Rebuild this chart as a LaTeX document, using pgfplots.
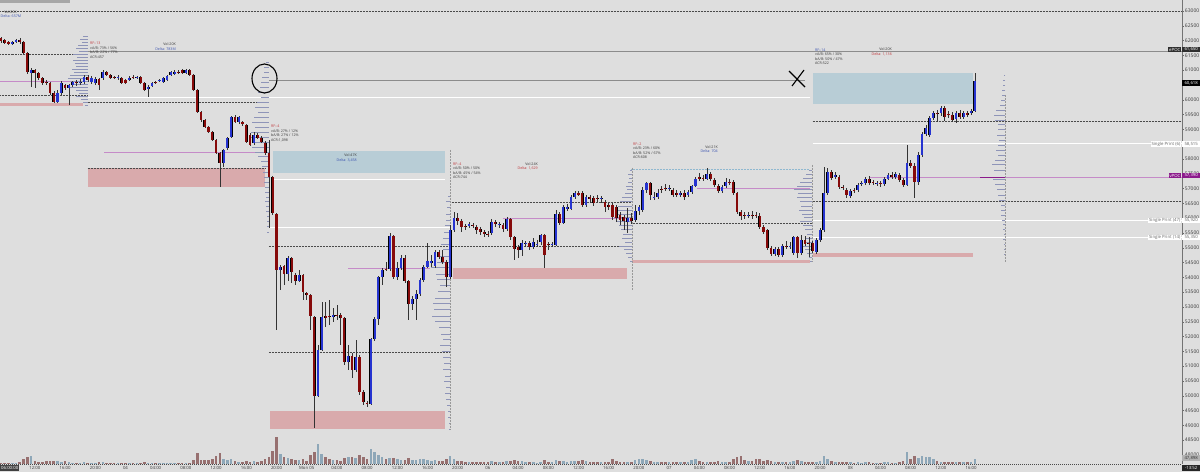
\documentclass[border=0pt]{standalone}
\usepackage{fontspec}
\setmainfont{Open Sans}
\usepackage{pgfplots}
\usepackage{pgfplotstable}
\pgfplotsset{compat=1.18}
\definecolor{bgc}{HTML}{DEDEDE}
\definecolor{upc}{HTML}{2634D0}
\definecolor{dnc}{HTML}{860A0A}
\definecolor{wickc}{HTML}{333333}
\definecolor{pinkz}{HTML}{D9AAAC}
\definecolor{bluez}{HTML}{B8CDD6}
\definecolor{magl}{HTML}{C58BC8}
\definecolor{magd}{HTML}{8B1A8B}
\definecolor{dotc}{HTML}{4A4A4A}
\definecolor{volup}{HTML}{8EA7B8}
\definecolor{voldn}{HTML}{977070}
\definecolor{profc}{HTML}{8E94B8}
\definecolor{txtc}{HTML}{3A3A3A}
\definecolor{redt}{HTML}{C0383C}
\definecolor{bluet}{HTML}{3A52B0}
\definecolor{lbd}{HTML}{8FB8D0}

\pgfplotstableread{
t o h l c v
-16.5 62088 62122 61919 61987 150
-16 62021 62055 61886 61919 150
-15.5 61953 61987 61852 61886 150
-15 61886 61987 61852 61953 150
-14.5 61953 62055 61919 62021 150
-14 62021 62088 61886 61953 200
-13.5 61953 61987 61548 61582 500
-13 61582 61615 60872 60940 700
-12.5 60906 61075 60433 61007 800
-12 61007 61041 60399 60906 300
-11.5 60906 60940 60670 60737 250
-11 60737 60771 60501 60568 250
-10.5 60602 60670 60501 60568 300
-10 60568 60602 60163 60230 300
-9.5 60230 60298 59893 59926 300
-9 59926 60332 59893 60230 300
-8.5 60230 60636 60163 60568 250
-8 60501 60534 60332 60399 300
-7.5 60399 60534 59825 60501 200
-7 60501 60636 60433 60602 150
-6.5 60602 60670 60467 60568 150
-6 60568 60703 60501 60602 150
-5.5 60602 60838 60534 60771 200
-5 60771 60838 60602 60670 150
-4.5 60602 60805 60534 60737 150
-4 60568 60771 60501 60703 150
-3.5 60703 60737 60332 60501 200
-3 60737 61007 60670 60940 200
-2.5 60940 60974 60805 60838 100
-2 60838 60872 60703 60737 100
-1.5 60771 60805 60703 60737 100
-1 60737 60838 60670 60771 100
-0.5 60737 60771 60534 60568 150
0 60670 60703 60534 60568 150
0.5 60670 60805 60636 60737 150
1 60771 60838 60703 60737 100
1.5 60737 60805 60703 60771 100
2 60771 60805 60534 60568 150
2.5 60568 60602 60298 60332 200
3 60366 60501 60095 60433 150
3.5 60467 60602 60433 60568 150
4 60602 60636 60534 60568 100
4.5 60636 60703 60602 60670 100
5 60602 60771 60568 60737 100
5.5 60670 60838 60636 60805 150
6 60838 60974 60805 60940 150
6.5 60872 61007 60838 60940 150
7 60940 61007 60872 60906 100
7.5 61007 61041 60872 60906 150
8 60906 61041 60872 61007 150
8.5 61007 61041 60805 60838 150
9 60838 60872 60298 60332 400
9.5 60332 60366 59555 59589 1100
10 59589 59622 59251 59318 400
10.5 59318 59352 59048 59082 400
11 59082 59116 58879 58913 400
11.5 58913 58947 58609 58643 500
12 58643 58677 58170 58204 800
12.5 58204 58237 57055 57866 1100
13 57866 58339 57731 58305 500
13.5 58373 58744 58305 58710 400
14 58744 59454 58710 59420 500
14.5 59420 59487 59217 59251 300
15 59251 59454 59183 59420 250
15.5 59251 59285 59116 59183 200
16 59150 59183 58542 58575 300
16.5 58812 58879 58440 58474 250
17 58542 58913 58474 58812 300
17.5 58812 58879 58677 58710 200
18 58710 58778 58542 58575 300
18.5 58542 58609 58136 58204 500
19 58204 58643 55670 57393 700
19.5 57393 57427 56109 56177 1300
20 56143 56177 52225 54251 2700
20.5 54251 54420 53576 54353 1000
21 54387 54420 53745 54116 700
21.5 54116 54724 53880 54657 600
22 54657 54690 53812 54184 500
22.5 54083 54150 53745 53880 400
23 53880 54251 53846 54083 400
23.5 54083 54116 53238 53508 500
24 53474 53508 53238 53407 300
24.5 53407 53441 52225 52697 900
25 52664 52697 48914 49995 1200
25.5 49995 51718 49961 51549 2000
26 51549 53170 51515 52664 1000
26.5 52697 53170 52326 52630 700
27 52697 53238 52394 52664 500
27.5 52664 52968 52495 52731 400
28 52731 53069 52562 52697 400
28.5 52731 52799 51718 52630 300
29 52630 52664 51042 51144 600
29.5 51144 51718 50873 51346 700
30 51346 51448 50603 50873 700
30.5 50873 51887 50806 51313 600
31 51313 51380 50029 50130 900
31.5 50130 50198 49691 49792 700
32 49759 49826 49624 49725 500
32.5 49725 51954 49691 51920 1500
33 51920 52664 51853 52596 1200
33.5 52596 54049 52394 54015 900
34 54015 54319 53745 54251 700
34.5 54285 54522 54218 54251 500
35 54285 55501 54218 55400 600
35.5 55400 55434 53947 54015 600
36 54015 54522 53914 54319 500
36.5 54319 54758 54251 54657 400
37 54657 54758 53812 53880 400
37.5 53880 53914 52562 53103 600
38 53103 53373 52900 53272 400
38.5 53272 53576 52562 53441 400
39 53441 53981 53373 53914 500
39.5 53914 54420 53846 54353 500
40 54353 55163 54319 54555 400
40.5 54488 54758 54353 54555 300
41 54387 54927 54319 54859 400
41.5 54859 54927 54623 54690 300
42 54690 54927 54454 54522 300
42.5 54522 54589 53677 54015 500
43 54015 55772 53947 55603 800
43.5 55603 56211 55535 56008 500
44 56008 56177 55772 55907 300
44.5 55907 55974 55535 55704 300
45 55738 55805 55603 55704 200
45.5 55738 55873 55670 55805 200
46 55772 55839 55670 55738 200
46.5 55704 55772 55467 55603 200
47 55636 55704 55434 55535 200
47.5 55535 55603 55366 55467 200
48 55467 55569 55366 55450 200
48.5 55501 55974 55434 55873 300
49 55873 55940 55704 55805 200
49.5 55788 55873 55670 55805 200
50 55772 55839 55535 55636 200
50.5 55636 56042 55569 55974 300
51 55974 56008 55265 55366 300
51.5 55366 55400 54589 54961 400
52 55028 55096 54657 54927 300
52.5 54927 55265 54724 55163 300
53 55129 55231 55028 55163 200
53.5 55163 55231 54927 55028 200
54 55028 55332 54961 55197 200
54.5 55096 55265 55028 55129 150
55 55197 55467 55096 55434 200
55.5 55434 55467 54319 54758 400
56 55129 55197 54927 55096 250
56.5 55096 55197 55028 55129 200
57 55096 56278 55062 56143 400
57.5 56143 56211 55772 55839 300
58 55839 56447 55805 56380 300
58.5 56312 56481 56244 56380 200
59 56312 56785 56278 56717 300
59.5 56717 56920 56650 56852 300
60 56852 56920 56751 56819 300
60.5 56852 56920 56380 56447 400
61 56447 56785 56380 56717 300
61.5 56717 56785 56515 56650 200
62 56684 56751 56413 56515 200
62.5 56684 56785 56549 56650 200
63 56650 56751 56515 56684 200
63.5 56549 56616 56211 56380 200
64 56447 56515 56278 56380 200
64.5 56447 56515 55940 56042 500
65 56380 56447 55873 56008 300
65.5 56109 56211 55772 55940 200
66 56042 56109 55603 55907 200
66.5 55873 56346 55501 56008 200
67 56008 56177 55805 55907 200
67.5 55940 56447 55873 56244 400
68 56244 56447 56109 56380 500
68.5 56278 57055 56211 56954 500
69 56954 57224 56852 57190 400
69.5 57190 57224 56616 56785 300
70 56684 56886 56616 56717 200
70.5 56717 56988 56650 56852 200
71 56988 57089 56852 56954 200
71.5 57021 57156 56920 56988 200
72 56988 57123 56920 57021 200
72.5 56954 57021 56717 56785 200
73 56852 56954 56717 56785 200
73.5 56785 56920 56717 56852 200
74 56852 56954 56616 56717 200
74.5 56785 56954 56717 56886 200
75 56886 57123 56819 57089 400
75.5 57089 57393 57055 57325 500
76 57393 57528 57258 57325 300
76.5 57359 57460 57258 57325 250
77 57325 57697 57292 57494 250
77.5 57494 57562 57258 57325 250
78 57292 57359 57055 57123 250
78.5 57089 57156 56852 56920 300
79 56920 57123 56852 57055 250
79.5 57089 57359 57021 57224 250
80 57224 57325 57123 57190 250
80.5 57224 57292 56785 56852 500
81 56852 56886 56143 56211 700
81.5 56211 56278 55940 56076 800
82 56109 56211 55974 56076 400
82.5 56076 56211 56008 56109 300
83 56109 56244 55974 56076 300
83.5 56109 56211 56008 56076 500
84 56076 56177 55636 55704 500
84.5 55704 55772 55467 55535 300
85 55603 55636 54927 54994 400
85.5 54994 55062 54724 54792 300
86 54792 55028 54724 54961 250
86.5 54961 55028 54690 54758 250
87 54758 55129 54690 55062 250
87.5 55062 55231 54961 55028 250
88 55028 55197 54961 55062 250
88.5 54825 55400 54758 55366 300
89 55366 55400 54657 54825 400
89.5 54825 55434 54758 55265 300
90 55265 55400 55062 55129 250
90.5 55163 55366 54690 55129 250
91 55163 55231 54825 54893 250
91.5 54859 55332 54792 55265 250
92 55265 55670 55197 55603 300
92.5 55603 57731 55535 56852 800
93 56852 57697 56785 57562 500
93.5 57562 57629 57292 57359 300
94 57393 57562 57325 57460 200
94.5 57393 57460 56988 57055 250
95 57055 57123 56954 57021 200
95.5 56954 57021 56684 56785 250
96 56751 56988 56684 56920 200
96.5 56954 57021 56852 56920 150
97 56954 57190 56886 57123 200
97.5 57156 57258 57089 57190 150
98 57190 57393 57123 57325 200
98.5 57325 57427 57123 57190 200
99 57224 57292 57123 57190 150
99.5 57156 57258 57089 57190 150
100 57190 57258 57055 57156 150
100.5 57156 57393 57089 57325 200
101 57325 57528 57292 57460 200
101.5 57460 57562 57325 57393 150
102 57393 57562 57325 57494 150
102.5 57460 57528 57224 57292 200
103 57292 57359 57055 57123 300
103.5 57123 58474 57089 57866 1200
104 57866 57967 57697 57765 500
104.5 57765 57866 56684 57224 800
105 57224 58237 57123 58136 600
105.5 58136 58913 58069 58846 800
106 58846 59150 58778 59048 700
106.5 58812 59454 58744 59386 700
107 59386 59622 59318 59555 500
107.5 59555 59656 59251 59521 300
108 59555 59791 59454 59724 250
108.5 59724 59791 59285 59420 250
109 59521 59622 59386 59487 200
109.5 59487 59589 59251 59318 200
110 59352 59622 59217 59555 200
110.5 59555 59656 59352 59420 200
111 59420 59622 59352 59555 200
111.5 59555 59622 59420 59487 200
112 59555 59690 59487 59622 200
112.5 59622 60906 59589 60618 500
}\candles

\pgfplotstableread{
p len
62156 0.6
62055 1.0
61953 0.8
61852 1.3
61751 1.6
61649 1.1
61548 1.9
61447 1.4
61345 2.0
61244 1.7
61143 1.5
61041 2.1
60940 1.8
60838 2.3
60737 2.6
60636 2.2
60534 1.9
60433 2.4
60332 1.6
60230 1.2
60129 1.5
60028 0.9
59926 0.6
59825 0.4
}\profA

\pgfplotstableread{
p len
61278 0.4
61109 0.7
60940 0.6
60771 0.9
60602 1.0
60433 1.2
60264 1.4
60095 1.1
59926 1.6
59758 1.8
59589 1.5
59420 2.0
59251 2.2
59082 1.9
58913 2.4
58744 2.6
58575 2.1
58406 2.3
58237 1.8
58069 1.4
57900 1.1
57731 0.9
57562 0.8
57393 0.7
57224 0.6
57055 0.5
56886 0.5
56717 0.4
56549 0.5
56380 0.4
56211 0.4
56042 0.3
55873 0.3
55704 0.3
55535 0.2
}\profB

\pgfplotstableread{
p len
56751 0.3
56549 0.5
56346 0.4
56143 0.6
55940 0.5
55738 0.7
55535 0.8
55332 0.9
55129 1.2
54927 1.0
54724 1.5
54521 1.8
54319 2.6
54116 1.9
53914 1.7
53711 1.4
53508 1.6
53305 2.0
53103 2.3
52900 2.1
52697 2.4
52495 2.0
52292 1.5
52089 1.2
51887 1.0
51684 1.3
51481 1.1
51279 0.9
51076 0.8
50873 1.0
50670 0.7
50468 0.8
50265 0.6
50062 0.7
49860 0.5
49657 0.4
49454 0.3
49252 0.3
49049 0.2
48846 0.2
}\profC

\pgfplotstableread{
p len
57629 0.3
57494 0.5
57359 0.4
57224 0.6
57089 0.8
56954 0.7
56819 1.0
56684 1.3
56549 1.6
56413 1.9
56278 2.2
56143 2.0
56008 2.4
55873 2.1
55738 1.8
55603 1.5
55467 1.2
55332 1.4
55197 1.0
55062 1.7
54927 1.1
54792 0.8
54657 0.5
54522 0.3
}\profD

\pgfplotstableread{
p len
57629 0.4
57494 0.8
57359 1.2
57224 1.5
57089 1.9
56954 2.3
56819 1.8
56684 2.0
56549 1.6
56413 1.4
56278 1.7
56143 1.3
56008 1.1
55873 1.5
55738 1.2
55603 0.9
55467 0.7
55332 0.8
55197 1.0
55062 1.2
54927 0.9
54792 0.6
54657 0.4
54522 0.3
}\profE

\pgfplotstableread{
p len
60838 0.2
60670 0.3
60501 0.3
60332 0.4
60163 0.4
59994 0.5
59825 0.7
59656 1.2
59487 1.5
59318 1.3
59150 1.0
58981 0.9
58812 1.1
58643 0.8
58474 0.9
58305 1.2
58136 1.0
57967 1.4
57799 1.7
57629 1.5
57292 1.6
57123 1.4
56954 1.1
56785 0.9
56616 0.8
56447 0.6
56278 0.5
56109 0.5
55940 0.4
55772 0.3
55603 0.3
55434 0.2
55265 0.3
55096 0.2
54927 0.2
54758 0.2
}\profF

\pgfplotsset{
  prof/.style={draw=none, mark=none, forget plot,
    error bars/.cd, x dir=minus, x explicit, error mark=none,
    error bar style={draw=#1, line width=0.9pt, solid}},
  prof/.default=profc,
  cdl/.style 2 args={draw=none, mark=none, forget plot,
    error bars/.cd, y dir=both, y explicit, error mark=none,
    error bar style={draw=#1, line width=#2, solid}},
  lvl/.style={forget plot, mark=none, line width=#1},
  dots/.style={forget plot, mark=none, draw=dotc, line width=0.7pt, dash pattern=on 0.6pt off 0.9pt},
  zone/.style={forget plot, mark=none, draw=none, fill=#1},
}

\begin{document}
\begin{tikzpicture}
\path[use as bounding box, fill=bgc] (0pt,-8pt) rectangle (1200pt,464pt);
\begin{axis}[
  at={(0pt,0pt)}, anchor=south west,
  width=1182pt, height=464pt, scale only axis,
  xmin=-16.62, xmax=139.93, ymin=47696, ymax=63372,
  axis x line*=bottom, axis y line*=right,
  axis line style={-},
  x axis line style={draw=dotc, dash pattern=on 1.2pt off 0.8pt, line width=0.5pt},
  y axis line style={draw=black!55, line width=0.6pt},
  xtick={-12,-8,...,112},
  xticklabels={12:00,16:00,20:00,04,04:00,08:00,12:00,16:00,20:00,{Mon 05},04:00,08:00,12:00,16:00,20:00,06,04:00,08:00,12:00,16:00,20:00,07,04:00,08:00,12:00,16:00,20:00,08,04:00,08:00,12:00,16:00},
  xtick style={draw=none},
  ytick={48000,48500,...,63000},
  ytick style={draw=black!60, line width=0.4pt},
  major tick length=2pt, tick align=outside,
  scaled y ticks=false,
  /pgf/number format/assume math mode=true,
  yticklabel style={font=\fontsize{5}{6}\selectfont, text=txtc, inner sep=0.8pt, /pgf/number format/1000 sep={}},
  xticklabel style={font=\fontsize{4.3}{5}\selectfont, text=txtc, inner sep=0.5pt},
  clip mode=individual,
  no markers,
]
% zones
\addplot[zone=pinkz] coordinates {(-5,57697) (18.5,57697) (18.5,57055) (-5,57055)};
\addplot[zone=pinkz] coordinates {(-16.62,59892) (-5.6,59892) (-5.6,59791) (-16.62,59791)};
\addplot[zone=bluez] coordinates {(19.5,58271) (42.3,58271) (42.3,57528) (19.5,57528)};
\addplot[zone=pinkz] coordinates {(19.1,49488) (42.3,49488) (42.3,48880) (19.1,48880)};
\addplot[zone=pinkz] coordinates {(43.4,54318) (66.4,54318) (66.4,53947) (43.4,53947)};
\addplot[zone=pinkz] coordinates {(67.1,54589) (90.6,54589) (90.6,54487) (67.1,54487)};
\addplot[zone=bluez] coordinates {(91.1,60906) (112.2,60906) (112.2,59858) (91.1,59858)};
\addplot[zone=pinkz] coordinates {(91.1,54825) (112.2,54825) (112.2,54690) (91.1,54690)};
% level lines
\addplot[dots] coordinates {(-16.62,63000) (139.93,63000)};
\addplot[lvl=0.7pt, draw=black!45] coordinates {(-5,61650) (139.93,61650)};
\addplot[dots] coordinates {(-16.62,61548) (-5,61548)};
\addplot[lvl=0.8pt, draw=magl] coordinates {(-16.62,60612) (-5.6,60612)};
\addplot[dots] coordinates {(-16.62,60163) (-5,60163)};
\addplot[lvl=0.7pt, draw=black!45] coordinates {(19,60670) (90,60670)};
\addplot[lvl=1pt, draw=white] coordinates {(-5,60078) (90.6,60078)};
\addplot[dots] coordinates {(-5,59926) (19,59926)};
\addplot[lvl=0.8pt, draw=magl] coordinates {(-2.8,58237) (19,58237)};
\addplot[dots] coordinates {(-5,57697) (18.5,57697)};
\addplot[lvl=1pt, draw=white] coordinates {(19.5,57292) (42.3,57292)};
\addplot[lvl=1pt, draw=white] coordinates {(19,55670) (43,55670)};
\addplot[dots] coordinates {(19,55062) (67,55062)};
\addplot[dots] coordinates {(19,51481) (43,51481)};
\addplot[lvl=0.8pt, draw=magl] coordinates {(29.5,54319) (40.3,54319)};
\addplot[dots] coordinates {(43,56549) (67,56549)};
\addplot[lvl=0.8pt, draw=magl] coordinates {(50,56008) (66.4,56008)};
\addplot[lvl=0.8pt, draw=lbd, dash pattern=on 0.6pt off 0.9pt] coordinates {(67,57663) (90.6,57663)};
\addplot[lvl=0.8pt, draw=magl] coordinates {(75.7,57021) (90.6,57021)};
\addplot[dots] coordinates {(67,55839) (91,55839)};
\addplot[dots] coordinates {(91,59260) (139.93,59260)};
\addplot[lvl=1pt, draw=white] coordinates {(91,58515) (139.93,58515)};
\addplot[lvl=0.9pt, draw=magl] coordinates {(98.6,57390) (139.93,57390)};
\addplot[dots] coordinates {(91,56582) (139.93,56582)};
\addplot[lvl=1pt, draw=white] coordinates {(91,55920) (139.93,55920)};
\addplot[lvl=1pt, draw=white] coordinates {(91,55350) (139.93,55350)};
% profile axes
\addplot[lvl=0.4pt, draw=black!40, dash pattern=on 0.5pt off 1pt] coordinates {(43,58305) (43,48846)};
\addplot[lvl=0.4pt, draw=black!40, dash pattern=on 0.5pt off 1pt] coordinates {(67.1,57697) (67.1,53576)};
\addplot[lvl=0.4pt, draw=black!40, dash pattern=on 0.5pt off 1pt] coordinates {(90.9,57798) (90.9,54522)};
\addplot[lvl=0.4pt, draw=black!40, dash pattern=on 0.5pt off 1pt] coordinates {(116.5,60163) (116.5,54522)};
% volume profiles
\addplot[prof] table[x expr=-5, y=p, x error=len] {\profA};
\addplot[prof] table[x expr=19, y=p, x error=len] {\profB};
\addplot[prof] table[x expr=43, y=p, x error=len] {\profC};
\addplot[prof] table[x expr=67.1, y=p, x error=len] {\profD};
\addplot[prof] table[x expr=90.9, y=p, x error=len] {\profE};
\addplot[prof] table[x expr=116.5, y=p, x error=len] {\profF};
\addplot[prof=magd] coordinates {(116.5,57390) +- (3.3,0)};
% candles: wicks
\addplot[cdl={wickc}{0.45pt}]
  table[x=t, y expr={(\thisrow{h}+\thisrow{l})/2}, y error expr={(\thisrow{h}-\thisrow{l})/2}] {\candles};
% body outlines
\addplot[cdl={black}{2.8pt}]
  table[x=t, y expr={(\thisrow{o}+\thisrow{c})/2}, y error expr={max(abs(\thisrow{o}-\thisrow{c})/2,8)+10}] {\candles};
% up bodies
\addplot[cdl={upc}{2.1pt}]
  table[x=t, y expr={\thisrow{c}>=\thisrow{o} ? (\thisrow{o}+\thisrow{c})/2 : 0}, y error expr={max(abs(\thisrow{o}-\thisrow{c})/2,8)}] {\candles};
% down bodies
\addplot[cdl={dnc}{2.1pt}]
  table[x=t, y expr={\thisrow{c}<\thisrow{o} ? (\thisrow{o}+\thisrow{c})/2 : 0}, y error expr={max(abs(\thisrow{o}-\thisrow{c})/2,8)}] {\candles};
\end{axis}

\begin{axis}[
  at={(0pt,0pt)}, anchor=south west,
  width=1182pt, height=464pt, scale only axis,
  xmin=-16.62, xmax=139.93, ymin=0, ymax=46400,
  hide axis, clip mode=individual, no markers,
]
\addplot[ycomb, draw=volup, line width=2.6pt] table[x=t, y expr={\thisrow{c}>=\thisrow{o} ? \thisrow{v} : 0}] {\candles};
\addplot[ycomb, draw=voldn, line width=2.6pt] table[x=t, y expr={\thisrow{c}<\thisrow{o} ? \thisrow{v} : 0}] {\candles};
\end{axis}

\begin{scope}[x=1pt, y=-1pt, yshift=464pt,
  ann/.style={font=\fontsize{3.6}{4}\selectfont, text=txtc, inner sep=0pt},
  box/.style={font=\fontsize{4.3}{5}\selectfont, inner xsep=1pt, inner ysep=0pt, minimum height=5.6pt},
  val/.style={box, anchor=west, minimum width=18pt}]
\fill[black!35] (0,0) rectangle (70,2.7);
% annotations
\node[ann, anchor=east] at (17,12) {Vol:20K};
\node[ann, anchor=west, text=bluet] at (0.5,16.5) {Delta: 657M};
\node[ann, anchor=west, text=redt] at (90,43.5) {RF:-13};
\node[ann, anchor=west] at (90,48) {vA/B: 73\% / 56\%};
\node[ann, anchor=west] at (90,52.5) {bA/B: 22\% / 77\%};
\node[ann, anchor=west] at (90,57) {ACR:457};
\node[ann, anchor=east] at (176,44) {Vol:20K};
\node[ann, anchor=east, text=bluet] at (176,49) {Delta: 783M};
\node[ann, anchor=west, text=redt] at (271,126.5) {RF:-4};
\node[ann, anchor=west] at (271,131) {vA/B: 27\% / 12\%};
\node[ann, anchor=west] at (271,135.5) {bA/B: 27\% / 12\%};
\node[ann, anchor=west] at (271,140) {ACR:1,098};
\node[ann, anchor=east] at (357,155.5) {Vol:47K};
\node[ann, anchor=east, text=bluet] at (357,160) {Delta: 3,458};
\node[ann, anchor=west, text=redt] at (453,164) {RF:-4};
\node[ann, anchor=west] at (453,168.5) {vA/B: 50\% / 50\%};
\node[ann, anchor=west] at (453,173) {bA/B: 45\% / 54\%};
\node[ann, anchor=west] at (453,177.5) {ACR:744};
\node[ann, anchor=east] at (538,164) {Vol:24K};
\node[ann, anchor=east, text=redt] at (538,168.5) {Delta: 1,629};
\node[ann, anchor=west, text=redt] at (633,144) {RF:-2};
\node[ann, anchor=west] at (633,148.5) {vA/B: 23\% / 60\%};
\node[ann, anchor=west] at (633,153) {bA/B: 52\% / 67\%};
\node[ann, anchor=west] at (633,157.5) {ACR:608};
\node[ann, anchor=east] at (718,147) {Vol:21K};
\node[ann, anchor=east, text=bluet] at (718,151.5) {Delta: 704};
\node[ann, anchor=west, text=bluet] at (815,50) {RF:-14};
\node[ann, anchor=west] at (815,54.5) {vA/B: 65\% / 30\%};
\node[ann, anchor=west] at (815,59) {bA/B: 50\% / 47\%};
\node[ann, anchor=west] at (815,63.5) {ACR:522};
\node[ann, anchor=east] at (892,49.5) {Vol:20K};
\node[ann, anchor=east, text=redt] at (892,54) {Delta: 1,136};
% hand drawn marks
\draw[black, line width=1.1pt] (264.5,78.5) ellipse [x radius=12.5pt, y radius=14.5pt];
\draw[black, line width=1.1pt] (789,71) -- (805,87);
\draw[black, line width=1.1pt] (804,70) -- (792,86);
% right labels
\node[box, anchor=east, fill=black!82, text=white] at (1181.5,49.5) {ePOC};
\node[val, fill=black!82, text=white] at (1182,49.5) {61,650};
\node[val, fill=black, text=white] at (1182,83) {60,618};
\node[box, anchor=east, fill=white, text=black!60] at (1181.5,144) {Single Print (6)};
\node[val, fill=white, text=black!60] at (1182,144) {58,515};
\node[box, anchor=east, fill=magd, text=white] at (1181.5,175.5) {vPOC};
\node[val, fill=magd, text=white] at (1182,175.5) {57,390};
\node[box, anchor=east, fill=white, text=black!60] at (1181.5,220.5) {Single Print (47)};
\node[val, fill=white, text=black!60] at (1182,220.5) {55,920};
\node[box, anchor=east, fill=white, text=black!60] at (1181.5,237.5) {Single Print (14)};
\node[val, fill=white, text=black!60] at (1182,237.5) {55,350};
\node[val, fill=black!30, text=black!80] at (1182,458) {47,898};
\node[val, fill=black!85, text=white] at (1182,468) {-13:52};
\node[box, anchor=west, fill=black!75, text=white] at (0,468) {06:00:00};
\end{scope}
\end{tikzpicture}
\end{document}
